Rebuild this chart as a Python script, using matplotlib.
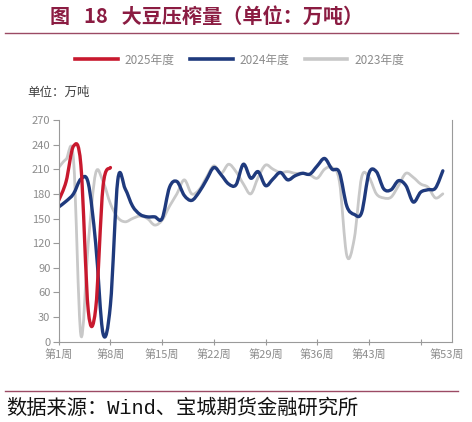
import numpy as np
import matplotlib
matplotlib.use('Agg')
import matplotlib.pyplot as plt
from matplotlib.path import Path
from matplotlib.patches import PathPatch
from matplotlib.lines import Line2D

plt.rcParams['font.family'] = ['Noto Sans CJK SC', 'DejaVu Sans']

# 周度大豆压榨量（万吨）
y2025 = [172, 195, 238, 215, 38, 40, 189, 212]
y2024 = [164, 171, 180, 198, 193, 120, 10, 45, 197, 186,
         165, 155, 152, 152, 150, 188, 195, 178, 172, 182,
         197, 212, 203, 192, 191, 216, 199, 207, 190, 198,
         206, 197, 202, 205, 204, 214, 223, 210, 206, 165,
         155, 157, 205, 207, 186, 185, 196, 190, 170, 182,
         185, 187, 208]
y2023 = [212, 222, 222, 8, 120, 205, 195, 168, 151, 146,
         150, 153, 150, 142, 148, 165, 180, 197, 180, 185,
         200, 214, 205, 216, 207, 192, 180, 200, 215, 210,
         206, 207, 205, 205, 203, 199, 210, 212, 195, 105,
         125, 200, 200, 180, 175, 176, 190, 205, 200, 192,
         188, 175, 180]

tick_weeks = [1, 8, 15, 22, 29, 36, 43, 50]
tick_labels = ['第1周', '第8周', '第15周', '第22周', '第29周', '第36周', '第43周', '']
last_label = '第53周'

series = [('2023年度', y2023, '#c8c8c8', 2.0),
          ('2024年度', y2024, '#1f3a7d', 2.4),
          ('2025年度', y2025, '#c8192e', 2.4)]


def smooth_path(xs, ys):
    # 平滑曲线（Catmull-Rom 转三次贝塞尔）
    pts = np.column_stack([xs, ys]).astype(float)
    ext = np.vstack([pts[0], pts, pts[-1]])
    verts = [pts[0]]
    codes = [Path.MOVETO]
    for i in range(len(pts) - 1):
        p0, p1, p2, p3 = ext[i], ext[i + 1], ext[i + 2], ext[i + 3]
        verts += [p1 + (p2 - p0) / 6, p2 - (p3 - p1) / 6, p2]
        codes += [Path.CURVE4] * 3
    return Path(verts, codes)


fig = plt.figure(figsize=(4.72, 4.22), dpi=100)
ax = fig.add_axes([0.1244, 0.19, 0.8326, 0.526])

handles = {}
for name, ys, color, lw in series:
    xs = np.arange(1, len(ys) + 1)
    patch = PathPatch(smooth_path(xs, ys), facecolor='none', edgecolor=color,
                      lw=lw, capstyle='round', joinstyle='round')
    ax.add_patch(patch)
    handles[name] = Line2D([], [], color=color, lw=2.6)

ax.set_xlim(1, 54.2)
ax.set_ylim(0, 270)
ax.set_yticks(range(0, 271, 30))
ax.set_xticks(tick_weeks)
ax.set_xticklabels(tick_labels)
ax.text(53.5, -0.035, last_label, transform=ax.get_xaxis_transform(),
        ha='center', va='top', fontsize=8, color='#8c8c8c')

for s in ['left', 'bottom', 'right']:
    ax.spines[s].set_color('#9a9a9a')
    ax.spines[s].set_linewidth(0.8)
ax.spines['top'].set_visible(False)
ax.tick_params(axis='y', direction='out', length=4, color='#9a9a9a',
               labelsize=8, labelcolor='#8c8c8c', pad=2)
ax.tick_params(axis='x', direction='inout', length=5, color='#9a9a9a',
               labelsize=8, labelcolor='#8c8c8c', pad=3)

order = ['2025年度', '2024年度', '2023年度']
fig.legend([handles[k] for k in order], order, loc='center',
           bbox_to_anchor=(0.508, 0.858), ncol=3, frameon=False,
           fontsize=8.5, labelcolor='#8c8c8c', handlelength=3.6,
           handletextpad=0.6, columnspacing=1.3)

fig.text(0.057, 0.78, '单位：万吨', fontsize=9, color='#404040', va='center')

fig.text(0.106, 0.962, '图   18   大豆压榨量（单位：万吨）', fontsize=14.5,
         fontweight='bold', color='#8b1c42', va='center')
fig.add_artist(Line2D([0.011, 0.971], [1 - 33 / 422] * 2, color='#9b4a64', lw=1))
fig.add_artist(Line2D([0.011, 0.971], [1 - 390.5 / 422] * 2, color='#9b4a64', lw=1))
fig.text(0.013, 1 - 408 / 422, '数据来源：Wind、宝城期货金融研究所', fontsize=14.6,
         family=['Liberation Mono', 'Noto Sans CJK SC'],
         color='#111111', va='center')

fig.savefig('out.png', dpi=100)
plt.close(fig)
